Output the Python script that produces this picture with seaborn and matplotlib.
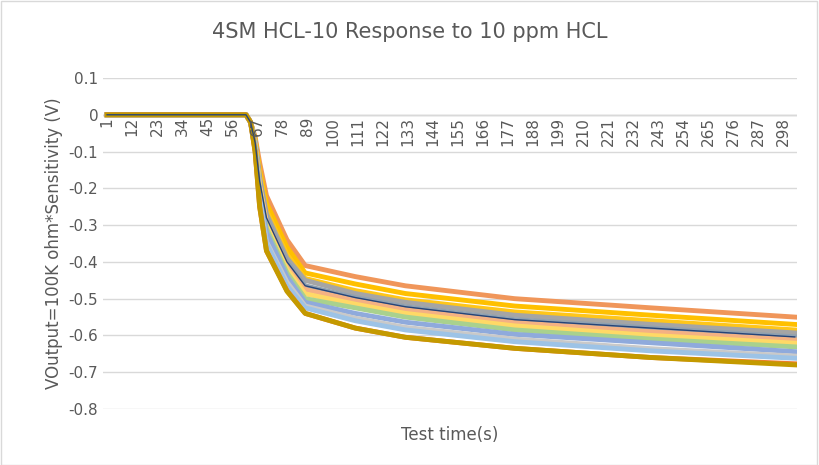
import seaborn as sns
import matplotlib.pyplot as plt
import pandas as pd

# sample times (s) and readings of each sensor (V)
times = [1, 62, 64, 66, 68, 71, 80, 88, 110, 132, 180, 240, 303]
head = [0.0, 0.0, -0.02]
series = {
    "S1":  head + [-0.06, -0.13, -0.22, -0.34, -0.41, -0.44, -0.465, -0.50, -0.525, -0.55],
    "S2":  head + [-0.065, -0.15, -0.24, -0.36, -0.43, -0.46, -0.486, -0.52, -0.545, -0.57],
    "S3":  head + [-0.07, -0.16, -0.26, -0.38, -0.445, -0.478, -0.503, -0.536, -0.56, -0.585],
    "S4":  head + [-0.072, -0.17, -0.27, -0.39, -0.45, -0.486, -0.51, -0.545, -0.57, -0.593],
    "S5":  head + [-0.075, -0.18, -0.28, -0.40, -0.465, -0.497, -0.522, -0.557, -0.58, -0.604],
    "S6":  head + [-0.08, -0.19, -0.29, -0.41, -0.475, -0.505, -0.53, -0.565, -0.59, -0.612],
    "S7":  head + [-0.082, -0.196, -0.30, -0.42, -0.487, -0.515, -0.54, -0.574, -0.60, -0.621],
    "S8":  head + [-0.085, -0.205, -0.31, -0.43, -0.50, -0.525, -0.55, -0.585, -0.61, -0.631],
    "S9":  head + [-0.089, -0.216, -0.32, -0.44, -0.51, -0.54, -0.564, -0.597, -0.62, -0.644],
    "S10": head + [-0.093, -0.228, -0.345, -0.455, -0.52, -0.553, -0.578, -0.61, -0.636, -0.656],
    "S11": head + [-0.095, -0.235, -0.35, -0.465, -0.525, -0.56, -0.585, -0.617, -0.642, -0.662],
    "S12": head + [-0.10, -0.25, -0.37, -0.478, -0.54, -0.58, -0.605, -0.635, -0.66, -0.677],
    "S13": head + [-0.10, -0.25, -0.37, -0.48, -0.54, -0.58, -0.605, -0.635, -0.66, -0.68],
}
colors = ["#F0965A", "#FFC000", "#FFC61A", "#A5A5A5", "#8FA0B0", "#F4B183", "#FFD966",
          "#A9D18E", "#8FAADC", "#C9C9C9", "#9DC3E6", "#ED7D31", "#C49A00"]
tick_labels = list(range(1, 304, 11))

rows = []
for name, vals in series.items():
    for t, v in zip(times, vals):
        rows.append({"t": t, "v": v, "s": name})
df = pd.DataFrame(rows)

fig = plt.figure(figsize=(8.19, 4.65), dpi=100)
ax = fig.add_axes([103 / 819, 56 / 465, 694 / 819, 331 / 465])
sns.lineplot(data=df, x="t", y="v", hue="s", palette=colors, linewidth=3.5,
             legend=False, ax=ax, sort=False)
# thin dark line through the middle band
ax.plot(times, series["S5"], color="#264478", lw=1.0)

ax.set_xlim(-0.8, 304)
ax.set_ylim(-0.8, 0.1)
ax.set_yticks([0.1, 0, -0.1, -0.2, -0.3, -0.4, -0.5, -0.6, -0.7, -0.8])
ax.set_yticklabels(["0.1", "0", "-0.1", "-0.2", "-0.3", "-0.4", "-0.5", "-0.6", "-0.7", "-0.8"],
                   fontsize=11, color="#595959")
ax.grid(axis="y", color="#D9D9D9", lw=1)
ax.set_axisbelow(True)
ax.axhline(0, color="#BFBFBF", lw=1, zorder=0.5)
ax.set_xticks([])
for t in tick_labels:
    ax.text(t, -0.006, str(t), rotation=90, ha="center", va="top", fontsize=11, color="#595959")
for s in ax.spines.values():
    s.set_visible(False)
ax.tick_params(axis="y", length=0)
ax.set_xlabel("Test time(s)", fontsize=12, color="#595959", labelpad=12)
ax.set_ylabel("VOutput=100K ohm*Sensitivity (V)", fontsize=12, color="#595959")
fig.text(0.5, 0.918, "4SM HCL-10 Response to 10 ppm HCL", ha="center", fontsize=15, color="#595959")
fig.patches.append(plt.Rectangle((0.001, 0.001), 0.997, 0.997, transform=fig.transFigure,
                                 fill=False, edgecolor="#D9D9D9", lw=1))
fig.savefig("out.png", dpi=100)
